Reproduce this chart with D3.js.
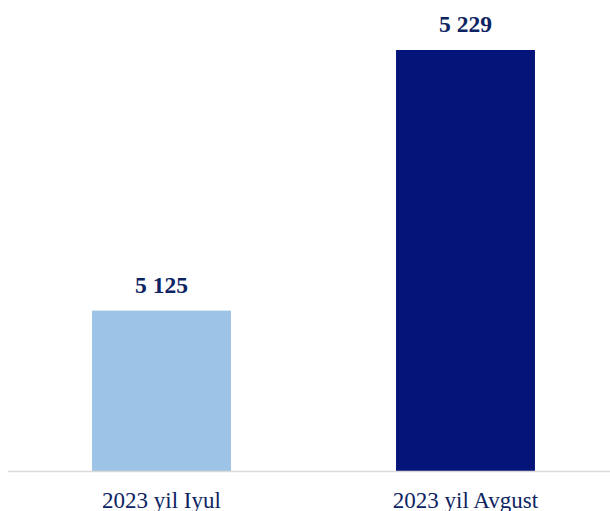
<!DOCTYPE html>
<html>
<head>
<meta charset="utf-8">
<script src="https://cdn.jsdelivr.net/npm/d3@7"></script>
<style>
  html, body { margin: 0; padding: 0; background: #ffffff; }
  svg { display: block; }
</style>
</head>
<body>
<script>
const categories = ["2023 yil Iyul", "2023 yil Avgust"];
const values = [5125, 5229];
const valueLabels = ["5 125", "5 229"];
const barColors = ["#9dc3e6", "#051478"];

const W = 610, H = 511;
const svg = d3.select("body").append("svg").attr("width", W).attr("height", H);

const x = d3.scaleBand().domain(categories).range([9.5, 617.5])
  .paddingInner(0.543).paddingOuter(0.2715);
const y = d3.scaleLinear().domain([5061, 5229]).range([471, 50]);

svg.selectAll("rect.bar").data(values).enter().append("rect")
  .attr("class", "bar")
  .attr("x", (d, i) => x(categories[i]))
  .attr("width", x.bandwidth())
  .attr("y", d => y(d))
  .attr("height", d => y.range()[0] - y(d))
  .attr("fill", (d, i) => barColors[i]);

// axis baseline
svg.append("line")
  .attr("x1", 8).attr("x2", W)
  .attr("y1", 471.5).attr("y2", 471.5)
  .attr("stroke", "#d9d9d9").attr("stroke-width", 1.5);

// value labels
svg.selectAll("text.val").data(values).enter().append("text")
  .attr("class", "val")
  .attr("x", (d, i) => x(categories[i]) + x.bandwidth() / 2)
  .attr("y", d => y(d) - 18)
  .attr("text-anchor", "middle")
  .attr("font-family", "'Liberation Serif', 'Times New Roman', serif")
  .attr("font-weight", "bold")
  .attr("font-size", 23.5)
  .attr("fill", "#0d2463")
  .text((d, i) => valueLabels[i]);

// category labels
svg.selectAll("text.cat").data(categories).enter().append("text")
  .attr("class", "cat")
  .attr("x", d => x(d) + x.bandwidth() / 2)
  .attr("y", 507.5)
  .attr("text-anchor", "middle")
  .attr("font-family", "'Liberation Serif', 'Times New Roman', serif")
  .attr("font-size", 23)
  .attr("fill", "#0d2463")
  .text(d => d);
</script>
</body>
</html>
